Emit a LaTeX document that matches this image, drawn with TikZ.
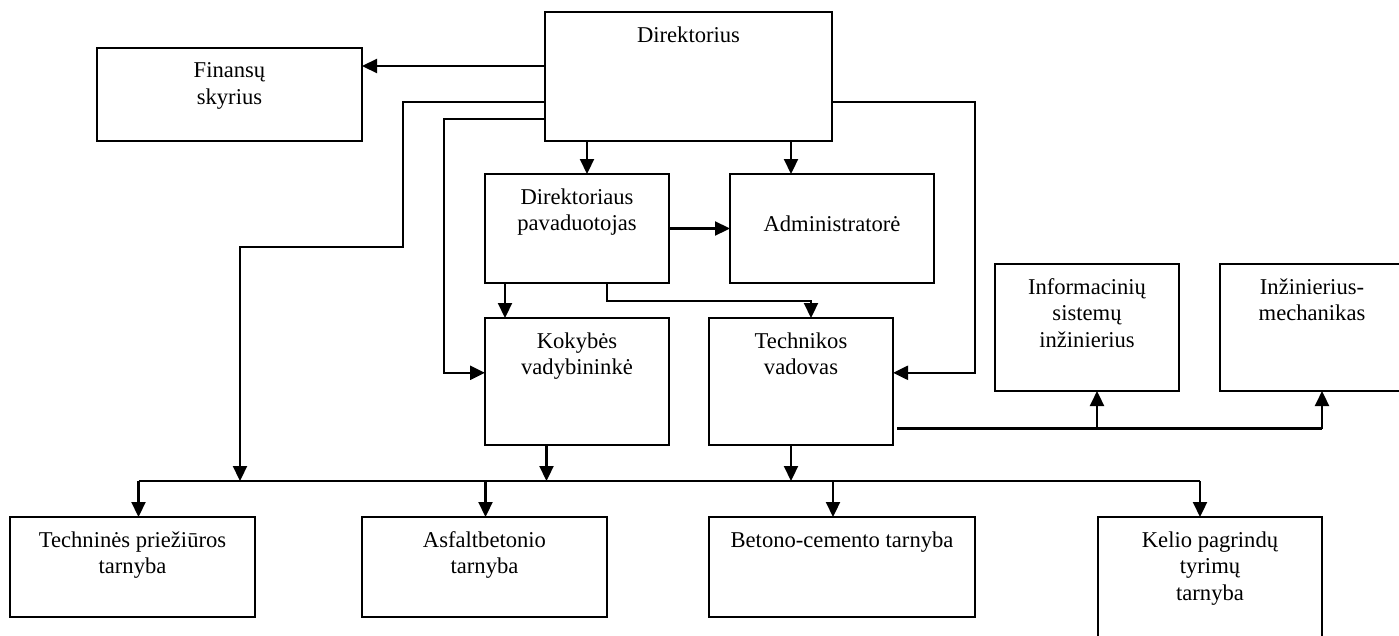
\documentclass[tikz,border=0pt]{standalone}
\usepackage{fontspec}
\setmainfont{Liberation Serif}
\usetikzlibrary{arrows.meta}
\begin{document}
\begin{tikzpicture}[x=1pt,y=-1pt,
  box/.style={draw, line width=2.4pt, rectangle, inner sep=0pt, outer sep=0pt, anchor=north west},
  lbl/.style={font=\fontsize{22.6}{26.5}\selectfont, align=center, inner sep=0pt, anchor=north},
  conn/.style={line width=2.2pt},
  arr/.style={conn, -{Triangle[width=14pt,length=15pt]}}]
\useasboundingbox (0,0) rectangle (1399,635);
\clip (0,0) rectangle (1399,635);
\fill[white] (0,0) rectangle (1399,635);

% boxes
\node[box, minimum width=287pt, minimum height=129pt] (dir)  at (545,12) {};
\node[box, minimum width=265pt, minimum height=93pt]  (fin)  at (97,48) {};
\node[box, minimum width=184pt, minimum height=109pt] (pav)  at (485,174) {};
\node[box, minimum width=204pt, minimum height=109pt] (adm)  at (730,174) {};
\node[box, minimum width=184pt, minimum height=127pt] (kok)  at (485,318) {};
\node[box, minimum width=184pt, minimum height=127pt] (tech) at (709,318) {};
\node[box, minimum width=184pt, minimum height=127pt] (info) at (995,264) {};
\node[box, minimum width=184pt, minimum height=127pt] (inz)  at (1220,264) {};
\node[box, minimum width=245pt, minimum height=100pt] (tp)   at (10,517) {};
\node[box, minimum width=245pt, minimum height=100pt] (asf)  at (362,517) {};
\node[box, minimum width=266pt, minimum height=100pt] (bet)  at (709,517) {};
\node[box, minimum width=224pt, minimum height=140pt] (kel)  at (1098,517) {};

% labels
\node[lbl] (tdir)  at ([yshift=-12pt]dir.north)  {\strut Direktorius};
\node[lbl] (tfin)  at ([yshift=-11pt]fin.north)  {\strut Finansų\\\strut skyrius};
\node[lbl] (tpav)  at ([yshift=-11.5pt]pav.north)  {\strut Direktoriaus\\\strut pavaduotojas};
\node[lbl] (tadm)  at ([yshift=-38.5pt]adm.north) {\strut Administratorė};
\node[lbl] (tkok)  at ([yshift=-11.5pt]kok.north)  {\strut Kokybės\\\strut vadybininkė};
\node[lbl] (ttech) at ([yshift=-11.5pt]tech.north) {\strut Technikos\\\strut vadovas};
\node[lbl] (tinfo) at ([yshift=-11.5pt]info.north) {\strut Informacinių\\\strut sistemų\\\strut inžinierius};
\node[lbl] (tinz)  at ([yshift=-11.5pt]inz.north)  {\strut Inžinierius-\\\strut mechanikas};
\node[lbl] (ttp)   at ([yshift=-11.5pt]tp.north)   {\strut Techninės priežiūros\\\strut tarnyba};
\node[lbl] (tasf)  at ([yshift=-11.5pt]asf.north)  {\strut Asfaltbetonio\\\strut tarnyba};
\node[lbl] (tbet)  at ([yshift=-11.5pt]bet.north)  {\strut Betono-cemento tarnyba};
\node[lbl] (tkel)  at ([yshift=-11.5pt]kel.north)  {\strut Kelio pagrindų\\\strut tyrimų\\\strut tarnyba};

% helper coordinates
\coordinate (dL1) at ([yshift=10.5pt]dir.west);
\coordinate (dL2) at ([yshift=-25.2pt]dir.west);
\coordinate (dL3) at ([yshift=-42.8pt]dir.west);
\coordinate (dR1) at ([yshift=-25.2pt]dir.east);
\coordinate (c1) at (403,246.7);
\coordinate (j1) at (240,481);
\coordinate (c2) at (444,0);
\coordinate (c3) at (975,0);
\coordinate (c4) at (0,301);
\coordinate (kW) at ([yshift=8.7pt]kok.west);
\coordinate (tE) at ([yshift=8.7pt]tech.east);
\coordinate (pN) at ([xshift=10pt]pav.north);
\coordinate (aN) at ([xshift=-41pt]adm.north);
\coordinate (kN) at ([xshift=-72pt]kok.north);
\coordinate (pS) at ([xshift=30pt]pav.south);
\coordinate (tN) at ([xshift=10pt]tech.north);
\coordinate (kS) at ([xshift=-30.5pt]kok.south);
\coordinate (tS) at ([xshift=-10pt]tech.south);
\coordinate (tE2) at ([xshift=4pt,yshift=-47pt]tech.east);
\coordinate (k1) at (1097,428.5);
\coordinate (k2) at (1322,428.5);
\coordinate (b1) at (138.5,481);
\coordinate (b2) at (485.5,481);
\coordinate (b3) at (833,481);
\coordinate (b4) at (1200,481);

% connectors from Direktorius
\draw[arr] (dL1) -- (dL1 -| fin.east);
\draw[arr] (dL2) -| (c1) -| (j1);
\draw[arr] (dL3) -| (kW -| c2) -- (kW);
\draw[arr] (dR1) -| (tE -| c3) -- (tE);
\draw[arr] (pN |- dir.south) -- (pN);
\draw[arr] (aN |- dir.south) -- (aN);

% from pavaduotojas
\draw[arr] (pav.east) -- (adm.west);
\draw[arr] (kN |- pav.south) -- (kN);
\draw[arr] (pS) |- (tN |- c4) -- (tN);

% to the bus
\draw[arr] (kS) -- (kS |- b1);
\draw[arr] (tS) -- (tS |- b1);
\draw[conn] (b1) -- (b4);
\draw[arr] (b1) -- (b1 |- tp.north);
\draw[arr] (b2) -- (b2 |- asf.north);
\draw[arr] (b3) -- (b3 |- bet.north);
\draw[arr] (b4) -- (b4 |- kel.north);

% technikos vadovas to engineers
\draw[conn] (tE2) -- (k2);
\draw[arr] (k1) -- (k1 |- info.south);
\draw[arr] (k2) -- (k2 |- inz.south);
\end{tikzpicture}
\end{document}
